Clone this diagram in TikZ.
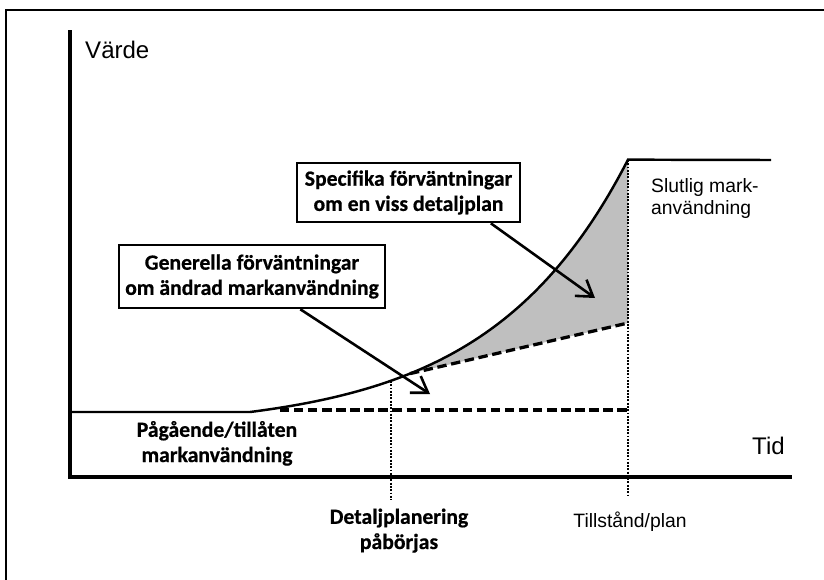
\documentclass[tikz,border=0pt]{standalone}
\usepackage{fontspec}
\setmainfont{Liberation Sans}
\newfontfamily\calb[FakeBold=0.6]{Carlito Bold}
\usetikzlibrary{arrows.meta,calc}
\begin{document}
\begin{tikzpicture}[x=0.03cm,y=-0.03cm,
  box/.style={draw, line width=2.2pt, fill=white, inner sep=0pt, align=center,
    font=\calb\fontsize{18.5}{21.5}\selectfont},
  callout/.style={line width=2.2pt, -{Straight Barb[length=13pt,width=17pt,line width=2.2pt]}},
  axis/.style={line width=3pt},
  curve/.style={line width=2.1pt},
  dashline/.style={line width=2.8pt, dash pattern=on 8pt off 4pt},
  dotline/.style={line width=2.4pt, dash pattern=on 1.6pt off 1.2pt},
  blab/.style={font=\calb\fontsize{18.5}{21.5}\selectfont, align=center, inner sep=0pt},
  alab/.style={font=\fontsize{20.5}{22}\selectfont, inner sep=0pt},
  slab/.style={font=\fontsize{16.5}{18}\selectfont, inner sep=0pt}
]
\useasboundingbox (0,0) rectangle (824,579);
\clip (0,0) rectangle (824,579);
\fill[white] (0,0) rectangle (824,579);
% outer frame
\draw[line width=2pt] (6,600) -- (6,10) -- (830,10);
% points
\coordinate (o) at (70,477);
\coordinate (ytop) at (70,30);
\coordinate (xend) at (792,477);
\coordinate (f0) at (70,412);
\coordinate (c0) at (250,412);
\coordinate (ctop) at (628,160);
\coordinate (cend) at (771,160);
\coordinate (d0) at (280,410);
\coordinate (d1) at (628,410);
\coordinate (g0) at (410,373.6);
\coordinate (g1) at (628,323);
\coordinate (v1a) at (391,381);
\coordinate (v1b) at (391,500);
\coordinate (v2b) at (628,495);
% grey area
\fill[black!25] plot[domain=410:628, samples=60] (\x,{412-17.75*(exp(0.0072*(\x-250))-1)}) -- (g1) -- cycle;
% dotted verticals
\draw[dotline] (v1a) -- (v1b);
\draw[dotline] (ctop) -- (v2b);
% dashed lines
\draw[dashline] (d0) -- (d1);
\draw[dashline] (g0) -- (g1);
% curve
\draw[curve] (f0) -- (c0) -- plot[domain=250:628, samples=100] (\x,{412-17.75*(exp(0.0072*(\x-250))-1)}) -- (cend);
% axes
\draw[axis] (ytop) -- (o) -- (xend);
% boxes
\node[box, minimum width=6.69cm, minimum height=1.77cm] (spec) at (408.5,192.5) {Specifika förväntningar\\om en viss detaljplan};
\node[box, minimum width=7.98cm, minimum height=1.89cm] (gen) at (252,276.5) {Generella förväntningar\\om ändrad markanvändning};
\coordinate (st) at (595,298);
\coordinate (gt) at (430,394);
\draw[callout] ($(spec.south west)!0.865!(spec.south east)$) -- (st);
\draw[callout] ($(gen.south west)!0.68!(gen.south east)$) -- (gt);
% labels
\node[alab, anchor=base west] (varde) at (85,58) {Värde};
\node[alab, anchor=base west] (tid) at (752,454) {Tid};
\node[slab, anchor=base west, align=left] (slut) at (651,214) {Slutlig mark-\\användning};
\node[slab, anchor=base] (till) at (630,527) {Tillstånd/plan};
\node[blab, anchor=base] (pag) at (217,462) {Pågående/tillåten\\markanvändning};
\node[blab, anchor=base] (det) at (399,549) {Detaljplanering\\påbörjas};
\end{tikzpicture}
\end{document}
